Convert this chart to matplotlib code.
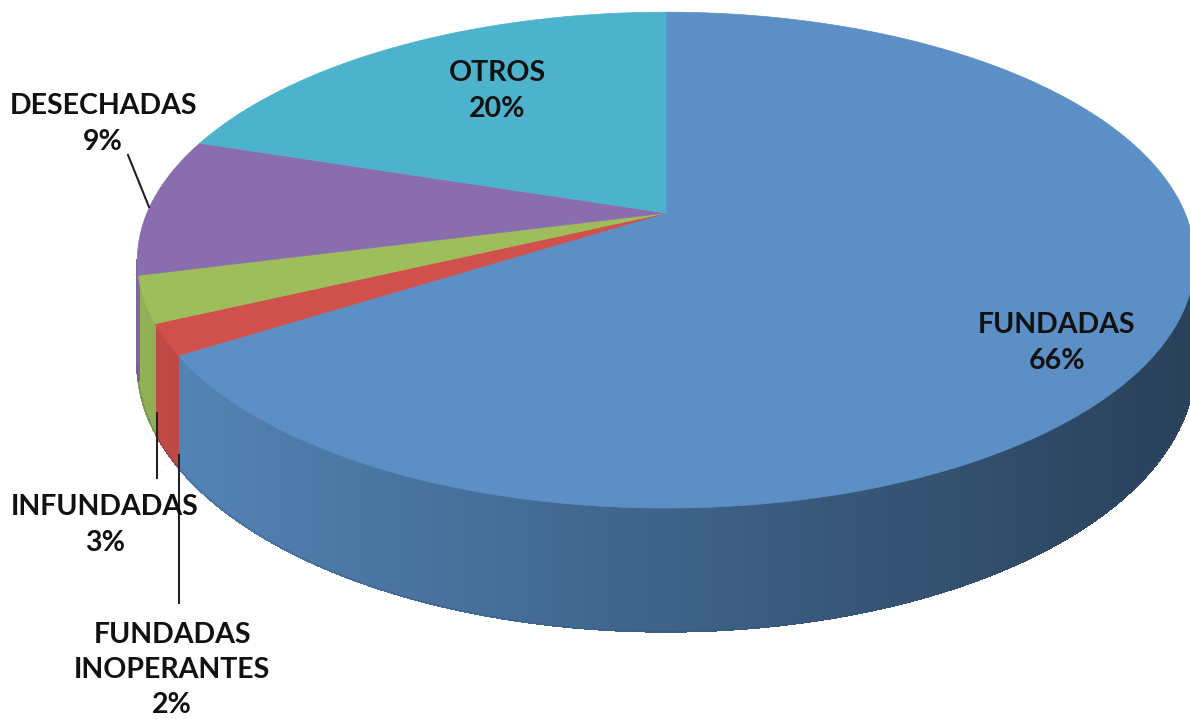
import numpy as np
import matplotlib
matplotlib.use("Agg")
import matplotlib.pyplot as plt
from matplotlib.collections import PolyCollection
from matplotlib.colors import to_rgb

# datos (porcentajes, en sentido horario desde las 12)
categorias = ["FUNDADAS", "FUNDADAS\nINOPERANTES", "INFUNDADAS", "DESECHADAS", "OTROS"]
valores = [66, 2, 3, 9, 20]
colores = ["#5B8FC6", "#D0504C", "#9DBE5B", "#8A6DAE", "#4DB3CC"]

# geometria del pastel 3D (perspectiva simple)
cx, cy = 666, 213
a, b, k = 519, 239, 0.19
h = 100


def proj(theta, depth=0.0):
    t = np.radians(theta)
    u, v = np.cos(t), np.sin(t)
    d = 1 + k * v
    return cx + a * u / d, cy - b * v / d + depth / d


def shade(x):
    # la cara lateral se oscurece hacia la derecha
    return 0.93 - (x - 140) * 0.46 / 1010


fig = plt.figure(figsize=(11.9, 7.19), dpi=100)
ax = fig.add_axes([0, 0, 1, 1])
ax.set_xlim(0, 1190)
ax.set_ylim(719, 0)
ax.axis("off")

# angulos de cada porcion
fr = np.array(valores) / sum(valores) * 360
ends = 90 - np.cumsum(fr)
starts = ends + fr

# caras laterales visibles (frente)
vis_lo, vis_hi = 191, 349
polys, fcols = [], []
for s, e, c in zip(starts, ends, colores):
    lo, hi = e % 360, (e % 360) + (s - e)
    for off in (0, 360, -360):
        a0, a1 = max(lo + off, vis_lo), min(hi + off, vis_hi)
        if a1 <= a0:
            continue
        n = max(int((a1 - a0) * 3), 2)
        th = np.linspace(a0, a1, n + 1)
        for t0, t1 in zip(th[:-1], th[1:]):
            p = [proj(t0), proj(t1), proj(t1, h), proj(t0, h)]
            xm = (p[0][0] + p[1][0]) / 2
            rgb = np.clip(np.array(to_rgb(c)) * shade(xm), 0, 1)
            polys.append(p)
            fcols.append(rgb)
pc = PolyCollection(polys, facecolors=fcols, edgecolors=fcols, linewidths=1.0,
                    antialiaseds=False)
ax.add_collection(pc)

# borde inferior suavizado
th = np.linspace(vis_lo, vis_hi, 400)
bx, by = zip(*[proj(t, h) for t in th])
ax.plot(bx, by, color="#35557a", lw=0.6, alpha=0.5)

# caras superiores
for s, e, c in zip(starts, ends, colores):
    th = np.linspace(s, e, max(int(abs(s - e) * 2), 3))
    pts = [(cx, cy)] + [proj(t) for t in th]
    ax.add_patch(plt.Polygon(pts, closed=True, facecolor=c, edgecolor=c, lw=0.5))

# etiquetas
txt = dict(family="Lato", weight="bold", fontsize=20.5, color="#111111",
           ha="center", va="center", linespacing=1.45)
pct = [f"{v}%" for v in valores]
ax.text(1057, 343, categorias[0] + "\n" + pct[0], **txt)
ax.text(497, 91, categorias[4] + "\n" + pct[4], **txt)
ax.text(103, 124, categorias[3] + "\n" + pct[3], **txt)
ax.text(105, 525, categorias[2] + "\n" + pct[2], **txt)
ax.text(172, 670, categorias[1] + "\n" + pct[1], **txt)

# lineas guia
lk = dict(color="#222222", lw=1.5)
ax.plot([128, 149], [155, 207], **lk)
ax.plot([157, 157], [413, 478], **lk)
ax.plot([179, 179], [455, 603], **lk)

fig.savefig("out.png", dpi=100)
